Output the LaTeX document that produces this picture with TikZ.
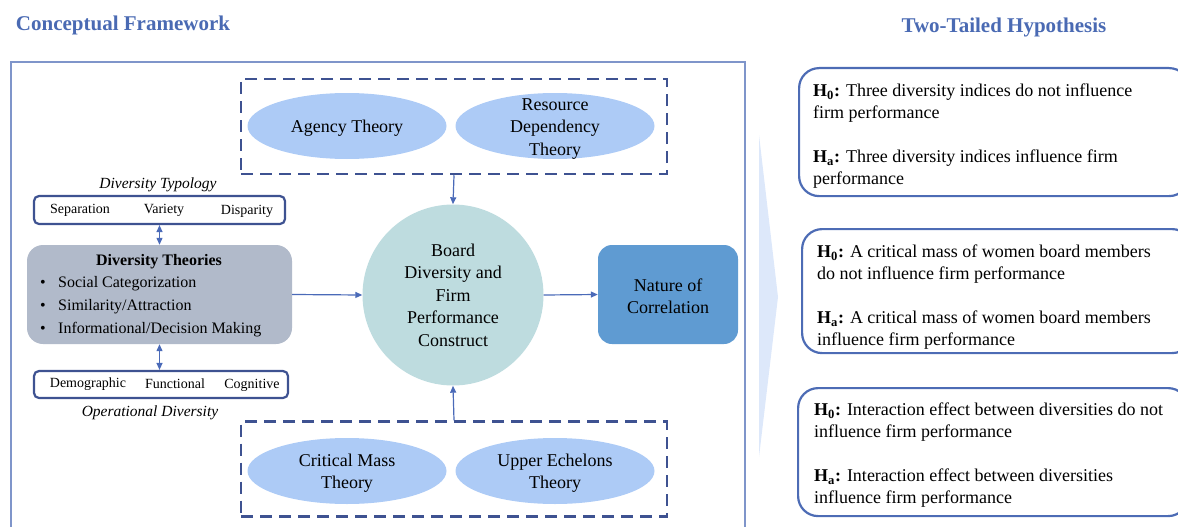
\documentclass[tikz,border=0pt]{standalone}
\usepackage{fontspec}
\setmainfont{Liberation Serif}
\usetikzlibrary{shapes.geometric,arrows.meta}
\definecolor{titleblue}{HTML}{4A6AB3}
\definecolor{navy}{HTML}{3E5291}
\definecolor{framec}{HTML}{7F95CA}
\definecolor{ellfill}{HTML}{ADCBF6}
\definecolor{circfill}{HTML}{BEDCDF}
\definecolor{natfill}{HTML}{5F9BD2}
\definecolor{dtfill}{HTML}{B1BACA}
\definecolor{arrowc}{HTML}{4A6AB8}
\definecolor{chev}{HTML}{DDE8FA}
\definecolor{hypborder}{HTML}{4D6CB5}
\begin{document}
\begin{tikzpicture}[x=1pt,y=-1pt,
  titletext/.style={text=titleblue,font=\fontsize{21}{25}\selectfont\bfseries,inner sep=0},
  dashbox/.style={draw=navy,line width=2.5pt,dash pattern=on 12pt off 7pt,minimum width=426pt,minimum height=95pt,inner sep=0},
  ell/.style={ellipse,fill=ellfill,minimum width=199pt,minimum height=66pt,inner sep=0},
  bigtext/.style={font=\fontsize{18}{22.5}\selectfont,align=center,inner sep=0},
  smallbox/.style={draw=navy,line width=2.2pt,rounded corners=5pt,fill=white,inner sep=0},
  smalltext/.style={font=\fontsize{14}{16}\selectfont,inner sep=0},
  itext/.style={font=\fontsize{15.5}{18}\selectfont\itshape,inner sep=0},
  dttext/.style={font=\fontsize{16}{19}\selectfont,inner sep=0},
  arr/.style={draw=arrowc,line width=1.2pt,-{Triangle[length=7pt,width=6pt]}},
  darr/.style={draw=arrowc,line width=1.2pt,{Triangle[length=7pt,width=6pt]}-{Triangle[length=7pt,width=6pt]}},
  hyp/.style={draw=hypborder,line width=2.2pt,rounded corners=20pt,anchor=north west,inner sep=0},
  hyptext/.style={font=\fontsize{18}{22}\selectfont,align=left,anchor=west,inner sep=0}
]
\useasboundingbox (0,0) rectangle (1178,527);
\clip (0,0) rectangle (1178,527);

% titles
\node[titletext] (t1) at (123,25) {Conceptual Framework};
\node[titletext] (t2) at (1004,27) {Two-Tailed Hypothesis};

% outer frame
\draw[framec,line width=1.1pt] (11,62) rectangle (745,545);

% chevron
\fill[chev] (759,135) -- (778,297) -- (759,457) -- cycle;

% top dashed group
\node[dashbox] (topbox) at (454,126.5) {};
\node[ell] (agency) at (347,126) {};
\node[bigtext] (agencyt) at (347,128) {Agency Theory};
\node[ell] (rdt) at (555,126) {};
\node[bigtext] (rdtt) at (555,129) {Resource\\Dependency\\Theory};

% bottom dashed group
\node[dashbox] (botbox) at (454,469) {};
\node[ell] (cmt) at (347,471) {};
\node[bigtext] (cmtt) at (347,473) {Critical Mass\\Theory};
\node[ell] (uet) at (555,471) {};
\node[bigtext] (uett) at (555,473) {Upper Echelons\\Theory};

% central circle
\node[circle,fill=circfill,minimum size=181pt,inner sep=0] (bd) at (453,295) {};
\node[bigtext] (bdt) at (bd) {Board\\Diversity and\\Firm\\Performance\\Construct};

% nature of correlation
\node[fill=natfill,rounded corners=14pt,minimum width=140pt,minimum height=99pt,inner sep=0] (nat) at (668,294.5) {};
\node[bigtext] (natt) at (668,296) {Nature of\\Correlation};

% diversity theories
\node[fill=dtfill,rounded corners=16pt,minimum width=265pt,minimum height=99pt,inner sep=0] (dt) at (159.5,294.5) {};
\node[dttext,font=\fontsize{16}{19}\selectfont\bfseries] (dtt) at (159,262) {Diversity Theories};
\node[dttext] (b1) at (43,284) {\textbullet};
\node[dttext,anchor=west] (l1) at (58,284) {Social Categorization};
\node[dttext] (b2) at (43,307) {\textbullet};
\node[dttext,anchor=west] (l2) at (58,307) {Similarity/Attraction};
\node[dttext] (b3) at (43,330) {\textbullet};
\node[dttext,anchor=west] (l3) at (58,330) {Informational/Decision Making};

% typology
\node[itext] (typt) at (158,185) {Diversity Typology};
\node[smallbox,minimum width=251pt,minimum height=28pt] (typ) at (159.5,210) {};
\node[smalltext] (sep) at (80,210) {Separation};
\node[smalltext] (var) at (164,210) {Variety};
\node[smalltext] (dis) at (247,211) {Disparity};

% operational
\node[smallbox,minimum width=254pt,minimum height=27pt] (opd) at (161,384.5) {};
\node[smalltext] (dem) at (88,384) {Demographic};
\node[smalltext] (fun) at (175,384) {Functional};
\node[smalltext] (cog) at (252,385.5) {Cognitive};
\node[itext] (opt) at (150,413) {Operational Diversity};

% connectors
\draw[arr] (topbox.south) -- (bd.north);
\draw[arr] (botbox.north) -- (bd.south);
\draw[arr] (dt.east) -- (bd.west);
\draw[arr] (bd.east) -- (nat.west);
\draw[darr] (typ.south) -- (dt.north);
\draw[darr] (dt.south) -- (dt.south |- opd.north);

% hypotheses
\node[hyp,minimum width=390pt,minimum height=128pt] (h1) at (798,67) {};
\node[hyptext] (h1t) at (813,136) {\textbf{H\textsubscript{0}:} Three diversity indices do not influence\\firm performance\\[22pt]\textbf{H\textsubscript{a}:} Three diversity indices influence firm\\performance};
\node[hyp,minimum width=390pt,minimum height=124pt] (h2) at (801,228) {};
\node[hyptext] (h2t) at (817,297) {\textbf{H\textsubscript{0}:} A critical mass of women board members\\do not influence firm performance\\[22pt]\textbf{H\textsubscript{a}:} A critical mass of women board members\\influence firm performance};
\node[hyp,minimum width=390pt,minimum height=128pt] (h3) at (797,387) {};
\node[hyptext] (h3t) at (814,455.5) {\textbf{H\textsubscript{0}:} Interaction effect between diversities do not\\influence firm performance\\[22pt]\textbf{H\textsubscript{a}:} Interaction effect between diversities\\influence firm performance};
\end{tikzpicture}
\end{document}
